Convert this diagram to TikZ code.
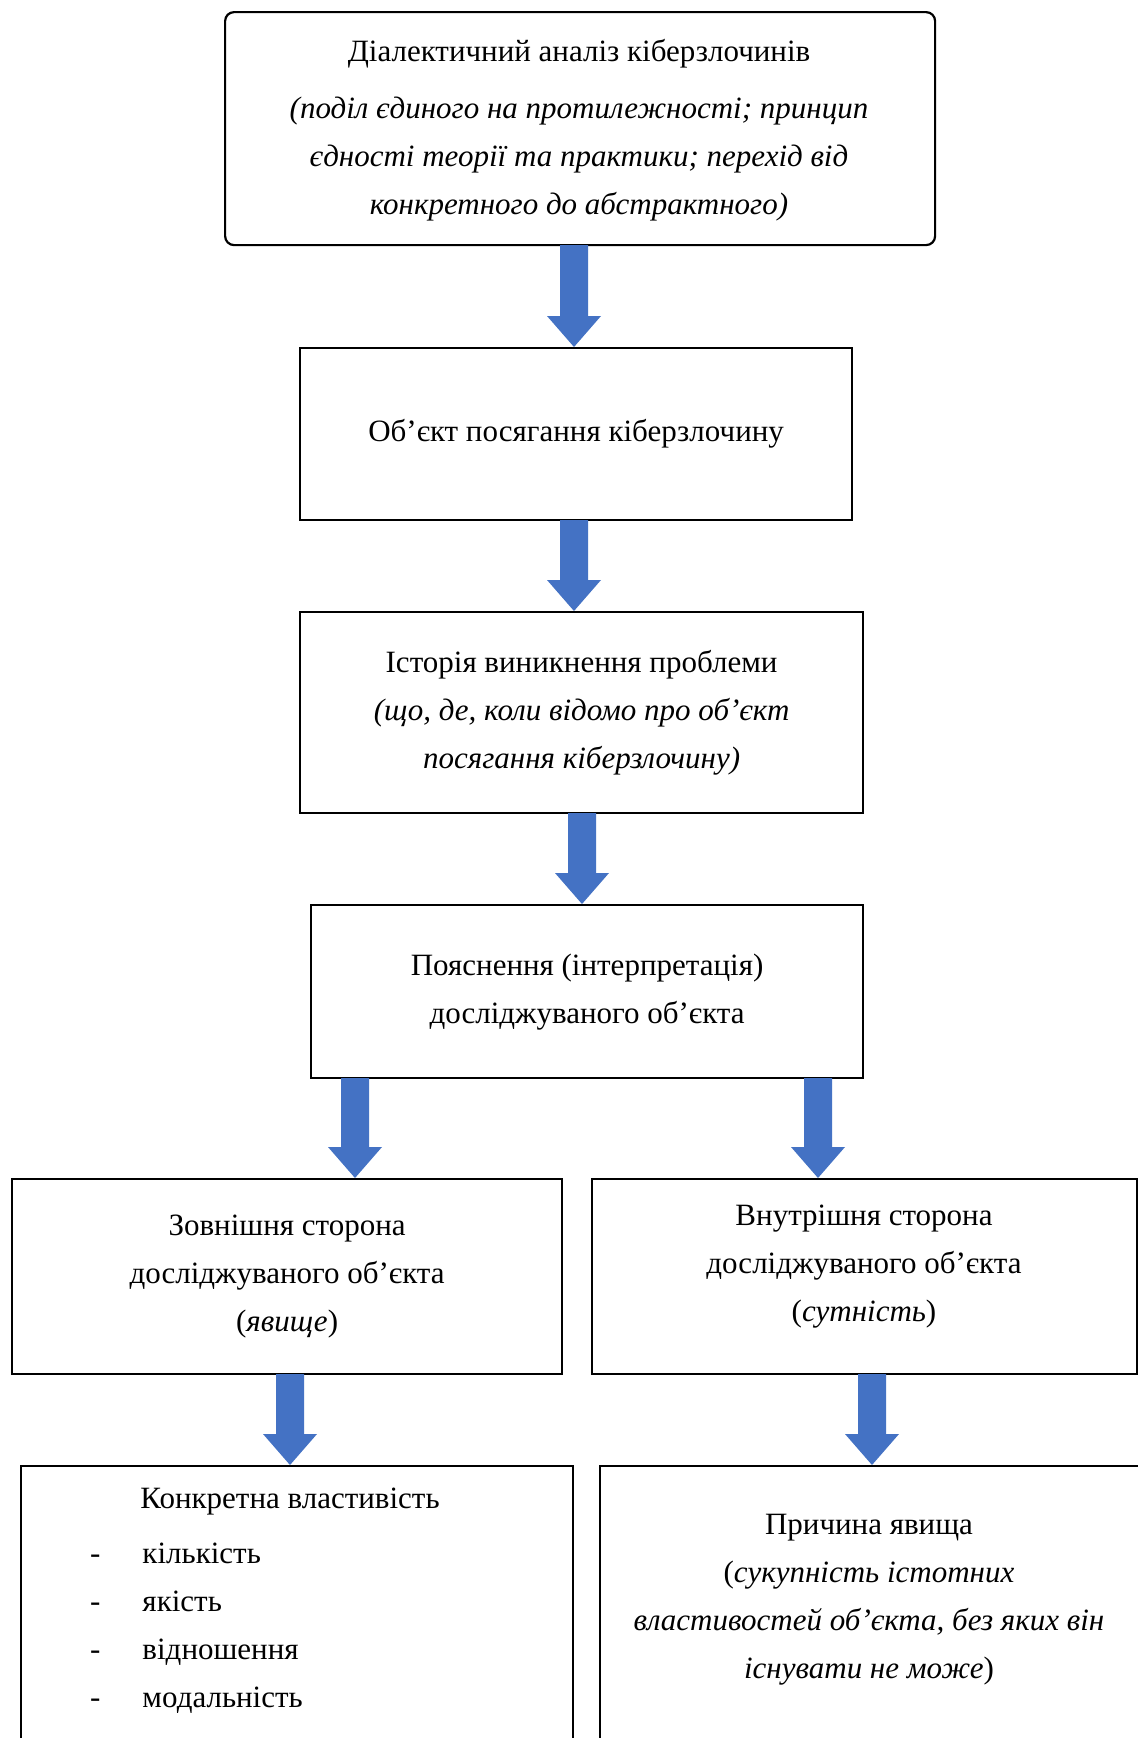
\documentclass[tikz,border=0pt]{standalone}
\usepackage{fontspec}
\setmainfont{Liberation Serif}
\usetikzlibrary{calc}
\definecolor{ablue}{HTML}{4472C4}
\tikzset{
  box/.style={draw=black, line width=2.2pt, inner sep=0pt, anchor=north west, align=center,
    font=\fontsize{31}{48}\selectfont},
  txt/.style={inner sep=0pt, align=center, font=\fontsize{31}{48}\selectfont},
}
\newcommand\blkarrow[3]{%
  \path (#1,0 |- #2.south) coordinate (at-t) (#1,0 |- #3.north) coordinate (at-h);
  \fill[ablue] ([xshift=-14pt,yshift=1pt]at-t) -- ([xshift=14pt,yshift=1pt]at-t)
    -- ([xshift=14pt,yshift=31pt]at-h) -- ([xshift=27pt,yshift=31pt]at-h)
    -- (at-h) -- ([xshift=-27pt,yshift=31pt]at-h) -- ([xshift=-14pt,yshift=31pt]at-h) -- cycle;}
\begin{document}
\begin{tikzpicture}[x=1pt,y=-1pt]
\useasboundingbox[fill=white] (0,0) rectangle (1138,1738);
% boxes
\node[box, rounded corners=9pt, minimum width=710pt, minimum height=233pt] (b1) at (224,11) {};
\node[txt] (t1) at (579,130) {Діалектичний аналіз кіберзлочинів\\[9pt]
  \itshape(поділ єдиного на протилежності; принцип\\
  \itshape єдності теорії та практики; перехід від\\
  \itshape конкретного до абстрактного)};
\node[box, minimum width=552pt, minimum height=172pt] (b2) at (299,347) {Об’єкт посягання кіберзлочину};
\node[box, minimum width=563pt, minimum height=201pt] (b3) at (299,611) {Історія виникнення проблеми\\
  \itshape(що, де, коли відомо про об’єкт\\
  \itshape посягання кіберзлочину)};
\node[box, minimum width=552pt, minimum height=173pt] (b4) at (310,904) {Пояснення (інтерпретація)\\досліджуваного об’єкта};
\node[box, minimum width=550pt, minimum height=195pt] (b5l) at (11,1178) {Зовнішня сторона\\досліджуваного об’єкта\\(\textit{явище})};
\node[box, minimum width=545pt, minimum height=195pt] (b5r) at (591,1178) {};
\node[txt] (t5r) at (864,1267) {Внутрішня сторона\\досліджуваного об’єкта\\(\textit{сутність})};
\node[box, minimum width=552pt, minimum height=320pt] (b6l) at (20,1465) {};
\node[txt] (t6l) at (290,1502) {Конкретна властивість};
\node[txt, anchor=north west, align=left] (l6l) at (90,1543) {%
  -\hspace{42pt}кількість\\-\hspace{42pt}якість\\-\hspace{42pt}відношення\\-\hspace{42pt}модальність};
\node[box, minimum width=560pt, minimum height=320pt] (b6r) at (599,1465) {};
\node[txt] (t6r) at (869,1600) {Причина явища\\
  (\textit{сукупність істотних}\\
  \textit{властивостей об’єкта, без яких він}\\
  \textit{існувати не може})};
% arrows
\blkarrow{574}{b1}{b2}
\blkarrow{574}{b2}{b3}
\blkarrow{582}{b3}{b4}
\blkarrow{355}{b4}{b5l}
\blkarrow{818}{b4}{b5r}
\blkarrow{290}{b5l}{b6l}
\blkarrow{872}{b5r}{b6r}
\end{tikzpicture}
\end{document}
